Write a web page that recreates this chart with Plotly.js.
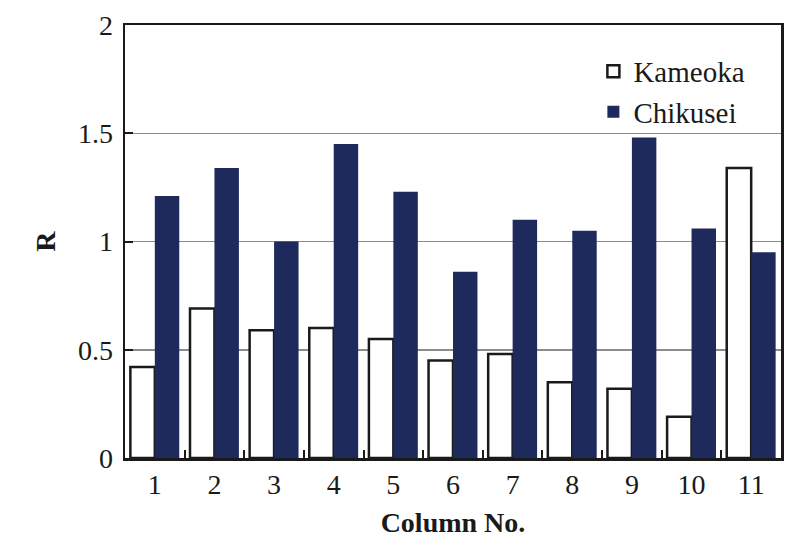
<!DOCTYPE html>
<html>
<head>
<meta charset="utf-8">
<script src="https://cdn.plot.ly/plotly-3.0.1.min.js"></script>
<style>html,body{margin:0;padding:0;background:#fff;}#chart{width:810px;height:547px;}</style>
</head>
<body>
<div id="chart"></div>
<script>
const columns = ["1","2","3","4","5","6","7","8","9","10","11"];
const kameoka = [0.42, 0.69, 0.59, 0.60, 0.55, 0.45, 0.48, 0.35, 0.32, 0.19, 1.34];
const chikusei = [1.21, 1.34, 1.00, 1.45, 1.23, 0.86, 1.10, 1.05, 1.48, 1.06, 0.95];
const yTicks = [0, 0.5, 1, 1.5, 2];
const yTickText = ["0", "0.5", "1", "1.5", "2"];

const serif = "Liberation Serif";

const traces = [
  {
    type: "bar", name: "Kameoka", x: columns, y: kameoka,
    marker: {color: "#ffffff", line: {color: "#1a1a1a", width: 2.5}}
  },
  {
    type: "bar", name: "Chikusei", x: columns, y: chikusei,
    marker: {color: "#1f2a5c", line: {width: 0}}
  }
];

const layout = {
  width: 810, height: 547,
  margin: {l: 125, r: 29, t: 25, b: 89},
  paper_bgcolor: "#fff", plot_bgcolor: "#fff",
  font: {family: serif, color: "#1a1a1a", size: 28},
  barmode: "group", bargap: 0.18, bargroupgap: 0,
  showlegend: true,
  legend: {
    x: 0.714, y: 0.952, xanchor: "left", yanchor: "top",
    bgcolor: "rgba(0,0,0,0)", borderwidth: 0,
    font: {family: serif, size: 29, color: "#1a1a1a"},
    tracegroupgap: 0, itemwidth: 30
  },
  xaxis: {
    type: "category",
    showline: true, linecolor: "#1a1a1a", linewidth: 2.5, mirror: true,
    ticks: "inside", tickson: "boundaries", ticklen: 8, tickwidth: 2, tickcolor: "#1a1a1a",
    showgrid: false, zeroline: false,
    tickfont: {family: serif, size: 28, color: "#1a1a1a"},
    title: {text: "<b>Column No.</b>", font: {family: serif, size: 28, color: "#1a1a1a"}, standoff: 14}
  },
  yaxis: {
    range: [0, 2], tickvals: yTicks, ticktext: yTickText,
    showline: true, linecolor: "#1a1a1a", linewidth: 2.5, mirror: true,
    ticks: "inside", ticklen: 8, tickwidth: 2, tickcolor: "#1a1a1a",
    showgrid: true, gridcolor: "#8c8c8c", gridwidth: 1.5, zeroline: false,
    ticklabelstandoff: 4,
    tickfont: {family: serif, size: 28, color: "#1a1a1a"},
    title: {text: "<b>R</b>", font: {family: serif, size: 28, color: "#1a1a1a"}, standoff: 14}
  }
};

Plotly.newPlot("chart", traces, layout, {displayModeBar: false, staticPlot: true});
</script>
</body>
</html>
